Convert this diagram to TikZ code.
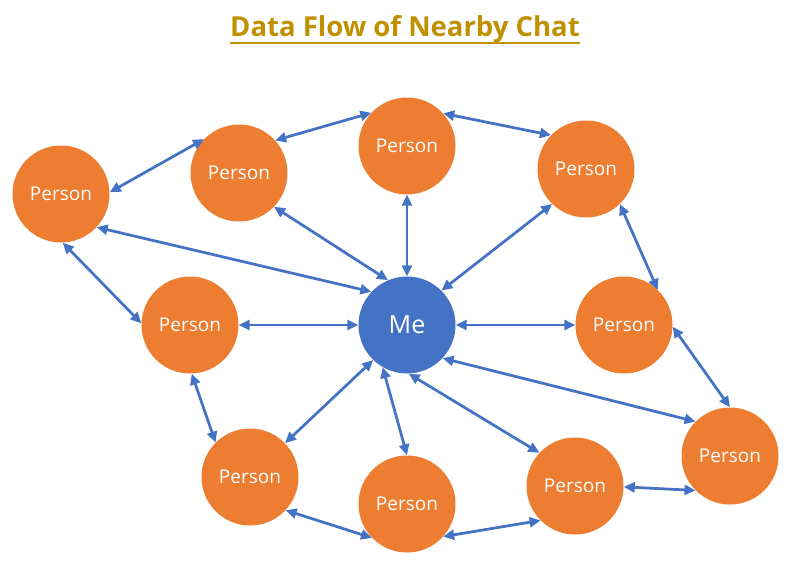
\documentclass[tikz,border=0pt]{standalone}
\usepackage{fontspec}
\setmainfont{Open Sans}
\usetikzlibrary{arrows.meta}
\definecolor{meblue}{HTML}{4472C4}
\definecolor{personorange}{HTML}{ED7D31}
\definecolor{titlegold}{HTML}{BF9000}
\tikzset{person/.style={circle,fill=personorange,text=white,minimum size=97pt,inner sep=0pt,
		font=\fontsize{19}{19}\selectfont},
	me/.style={fill=meblue,font=\fontsize{25}{25}\selectfont}}

\begin{document}
\begin{tikzpicture}[x=1pt,y=-1pt]
		\useasboundingbox (0,0) rectangle (788,565);
		\node[anchor=base,inner sep=0pt,text=titlegold,font=\fontsize{27.5}{27.5}\selectfont\bfseries] (title) at (405,36) {Data Flow of Nearby Chat};
		\draw[titlegold,line width=2pt] ([yshift=-6.5pt]title.base west) -- ([yshift=-6.5pt]title.base east);
		\begin{scope}[every node/.style=person]
			\node[me] (me) at (407,325) {Me};
			\node (p1) at (61,194) {Person};
			\node (p2) at (239,173) {Person};
			\node (p3) at (407,146) {Person};
			\node (p4) at (586,169) {Person};
			\node (p5) at (190,325) {Person};
			\node (p6) at (624,325) {Person};
			\node (p7) at (250,477) {Person};
			\node (p8) at (407,504) {Person};
			\node (p9) at (575,486) {Person};
			\node (p10) at (730,456) {Person};
		\end{scope}
		\begin{scope}[>={Triangle[length=11pt,width=10pt]},
			every edge/.style={draw=meblue,line width=2.75pt}]
			\path [<->] (p1.2) edge (p2.136);
			\path [<->] (p2.42) edge (p3.137);
			\path [<->] (p3.42) edge (p4.136);
			\path [<->] (p4.-46) edge (p6.46);
			\path [<->] (p6.-2) edge (p10.90);
			\path [<->] (p10.225) edge (p9.-1);
			\path [<->] (p9.225) edge (p8.-42);
			\path [<->] (p8.224) edge (p7.-43);
			\path [<->] (p7.135) edge (p5.-88);
			\path [<->] (p5.178) edge (p1.-88);
			\path [<->] (me.137) edge (p1.-43);
			\path [<->] (me.113) edge (p2.-44);
			\path [<->] (me.90) edge (p3.-90);
			\path [<->] (me.45) edge (p4.226);
			\path [<->] (me.0) edge (p6.180);
			\path [<->] (me.-43) edge (p10.135);
			\path [<->] (me.-88) edge (p9.137);
			\path [<->] (me.240) edge (p8.90);
			\path [<->] (me.226) edge (p7.44);
			\path [<->] (me.180) edge (p5.0);
		\end{scope}
	\end{tikzpicture}
\end{document}
